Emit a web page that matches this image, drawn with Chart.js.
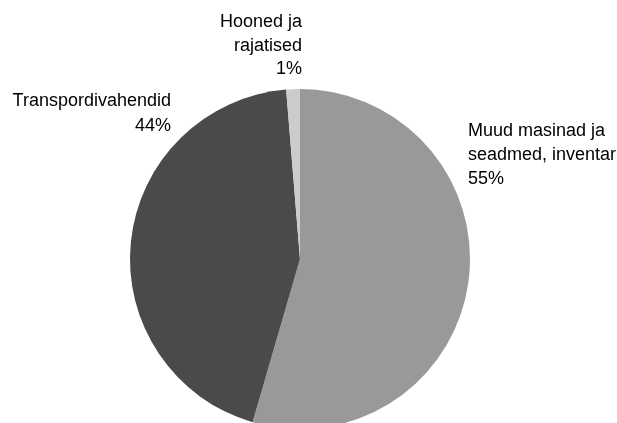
<!DOCTYPE html>
<html>
<head>
<meta charset="utf-8">
<script src="https://cdn.jsdelivr.net/npm/chart.js@4/dist/chart.umd.min.js"></script>
<style>
html,body{margin:0;padding:0;background:#fff;overflow:hidden;width:617px;height:423px;}
#wrap{position:absolute;left:0;top:0;width:617px;height:440px;}
</style>
</head>
<body>
<div id="wrap"><canvas id="c"></canvas></div>
<script>
const categories = ["Muud masinad ja seadmed, inventar", "Transpordivahendid", "Hooned ja rajatised"];
const shares = [54.5, 44.2, 1.3];
const colors = ["#999999", "#4a4a4a", "#cccccc"];
const labelLines = [["Muud masinad ja", "seadmed, inventar"], ["Transpordivahendid"], ["Hooned ja", "rajatised"]];

// label placement relative to pie centre (dx, dy from top of pie), alignment, line spacing
const labelLayout = [
  { align: 'left',  dx: 168,  dy: 47,  lh: 24 },
  { align: 'right', dx: -129, dy: 17,  lh: 25 },
  { align: 'right', dx: 2,    dy: -62, lh: 23.5 }
];

const labelPlugin = {
  id: 'outLabels',
  afterDraw(chart) {
    const ctx = chart.ctx;
    const meta = chart.getDatasetMeta(0);
    ctx.save();
    ctx.font = '18px "Liberation Sans", Arial, sans-serif';
    ctx.fillStyle = '#000';
    ctx.textBaseline = 'alphabetic';
    meta.data.forEach((arc, i) => {
      const lines = labelLines[i].concat([Math.round(shares[i]) + '%']);
      const L = labelLayout[i];
      const x = arc.x + L.dx;
      const y0 = arc.y - arc.outerRadius + L.dy;
      ctx.textAlign = L.align;
      lines.forEach((l, k) => ctx.fillText(l, x, y0 + k * L.lh));
    });
    ctx.restore();
  }
};

new Chart(document.getElementById('c'), {
  type: 'pie',
  data: {
    labels: categories,
    datasets: [{ data: shares, backgroundColor: colors, borderWidth: 0 }]
  },
  options: {
    responsive: true,
    maintainAspectRatio: false,
    animation: false,
    layout: { padding: { left: 130, right: 147, top: 89, bottom: 11 } },
    plugins: { legend: { display: false }, tooltip: { enabled: false } }
  },
  plugins: [labelPlugin]
});
</script>
</body>
</html>
